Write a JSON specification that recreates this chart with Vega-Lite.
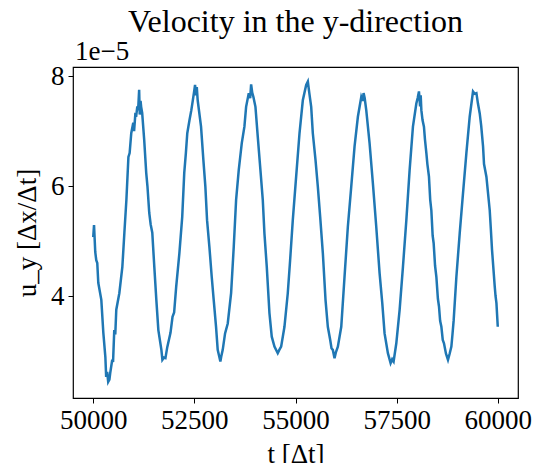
{
  "$schema": "https://vega.github.io/schema/vega-lite/v6.json",
  "width": 445,
  "height": 331,
  "autosize": "none",
  "padding": {"left": 73, "top": 67, "right": 19, "bottom": 65},
  "background": "white",
  "title": {"text": "Velocity in the y-direction", "font": "Liberation Serif", "fontSize": 32, "fontWeight": "normal", "color": "black", "baseline": "alphabetic", "offset": 13, "dy": 39},
  "config": {
    "view": {"stroke": "black", "strokeWidth": 1.2},
    "axis": {"grid": false, "domain": false, "tickColor": "black", "tickSize": 5, "tickWidth": 1, "labelFont": "Liberation Serif", "labelFontSize": 27, "labelColor": "black", "titleFont": "Liberation Serif", "titleFontSize": 27, "titleFontWeight": "normal", "titleColor": "black"}
  },
  "layer": [
    {
      "data": {"values": [
        {"t":50000,"v":5.07e-5},{"t":50020,"v":5.29e-5},{"t":50050,"v":4.80e-5},{"t":50075,"v":4.65e-5},{"t":50100,"v":4.60e-5},{"t":50125,"v":4.24e-5},{"t":50200,"v":3.93e-5},{"t":50250,"v":3.33e-5},{"t":50300,"v":2.89e-5},{"t":50320,"v":2.53e-5},{"t":50345,"v":2.62e-5},{"t":50370,"v":2.44e-5},{"t":50400,"v":2.48e-5},{"t":50420,"v":2.60e-5},{"t":50470,"v":2.84e-5},{"t":50490,"v":2.80e-5},{"t":50520,"v":3.38e-5},{"t":50545,"v":3.30e-5},{"t":50570,"v":3.75e-5},{"t":50645,"v":4.05e-5},{"t":50720,"v":4.53e-5},{"t":50770,"v":5.15e-5},{"t":50820,"v":5.75e-5},{"t":50870,"v":6.53e-5},{"t":50900,"v":6.60e-5},{"t":50940,"v":6.96e-5},{"t":50990,"v":7.15e-5},{"t":51010,"v":7.00e-5},{"t":51040,"v":7.30e-5},{"t":51065,"v":7.29e-5},{"t":51090,"v":7.45e-5},{"t":51110,"v":7.38e-5},{"t":51135,"v":7.75e-5},{"t":51150,"v":7.30e-5},{"t":51170,"v":7.55e-5},{"t":51185,"v":7.44e-5},{"t":51210,"v":7.33e-5},{"t":51260,"v":6.84e-5},{"t":51310,"v":6.24e-5},{"t":51340,"v":6.00e-5},{"t":51385,"v":5.51e-5},{"t":51420,"v":5.30e-5},{"t":51460,"v":5.15e-5},{"t":51480,"v":4.90e-5},{"t":51510,"v":4.53e-5},{"t":51560,"v":3.93e-5},{"t":51610,"v":3.38e-5},{"t":51685,"v":3.02e-5},{"t":51710,"v":2.84e-5},{"t":51750,"v":2.88e-5},{"t":51785,"v":2.87e-5},{"t":51830,"v":3.07e-5},{"t":51870,"v":3.20e-5},{"t":51910,"v":3.33e-5},{"t":51960,"v":3.62e-5},{"t":52000,"v":3.70e-5},{"t":52050,"v":4.16e-5},{"t":52130,"v":4.78e-5},{"t":52200,"v":5.44e-5},{"t":52250,"v":6.24e-5},{"t":52290,"v":6.60e-5},{"t":52325,"v":6.96e-5},{"t":52380,"v":7.20e-5},{"t":52425,"v":7.38e-5},{"t":52460,"v":7.55e-5},{"t":52500,"v":7.75e-5},{"t":52517,"v":7.84e-5},{"t":52540,"v":7.65e-5},{"t":52560,"v":7.80e-5},{"t":52582,"v":7.56e-5},{"t":52665,"v":7.08e-5},{"t":52723,"v":6.47e-5},{"t":52772,"v":5.99e-5},{"t":52814,"v":5.38e-5},{"t":52871,"v":4.90e-5},{"t":52929,"v":4.35e-5},{"t":52978,"v":3.93e-5},{"t":53036,"v":3.44e-5},{"t":53077,"v":3.02e-5},{"t":53143,"v":2.81e-5},{"t":53170,"v":2.92e-5},{"t":53201,"v":3.02e-5},{"t":53259,"v":3.32e-5},{"t":53325,"v":3.50e-5},{"t":53408,"v":4.05e-5},{"t":53474,"v":4.90e-5},{"t":53532,"v":5.75e-5},{"t":53597,"v":6.29e-5},{"t":53672,"v":6.78e-5},{"t":53737,"v":7.08e-5},{"t":53779,"v":7.44e-5},{"t":53845,"v":7.69e-5},{"t":53880,"v":7.60e-5},{"t":53903,"v":7.85e-5},{"t":53930,"v":7.70e-5},{"t":53960,"v":7.62e-5},{"t":54010,"v":7.44e-5},{"t":54067,"v":6.90e-5},{"t":54133,"v":6.29e-5},{"t":54191,"v":5.75e-5},{"t":54232,"v":5.14e-5},{"t":54290,"v":4.53e-5},{"t":54356,"v":3.69e-5},{"t":54413,"v":3.26e-5},{"t":54480,"v":3.08e-5},{"t":54561,"v":2.96e-5},{"t":54600,"v":3.02e-5},{"t":54645,"v":3.08e-5},{"t":54727,"v":3.44e-5},{"t":54809,"v":4.05e-5},{"t":54867,"v":4.65e-5},{"t":54933,"v":5.38e-5},{"t":55016,"v":6.17e-5},{"t":55099,"v":6.96e-5},{"t":55181,"v":7.56e-5},{"t":55264,"v":7.84e-5},{"t":55305,"v":7.90e-5},{"t":55340,"v":7.70e-5},{"t":55388,"v":7.44e-5},{"t":55428,"v":6.96e-5},{"t":55495,"v":6.47e-5},{"t":55552,"v":5.99e-5},{"t":55610,"v":5.44e-5},{"t":55676,"v":4.78e-5},{"t":55742,"v":3.93e-5},{"t":55799,"v":3.44e-5},{"t":55858,"v":3.20e-5},{"t":55890,"v":3.05e-5},{"t":55923,"v":3.02e-5},{"t":55965,"v":2.87e-5},{"t":56000,"v":2.98e-5},{"t":56047,"v":3.08e-5},{"t":56131,"v":3.44e-5},{"t":56212,"v":4.35e-5},{"t":56294,"v":5.26e-5},{"t":56378,"v":5.99e-5},{"t":56460,"v":6.72e-5},{"t":56542,"v":7.26e-5},{"t":56626,"v":7.62e-5},{"t":56660,"v":7.55e-5},{"t":56683,"v":7.69e-5},{"t":56710,"v":7.60e-5},{"t":56749,"v":7.38e-5},{"t":56831,"v":6.78e-5},{"t":56913,"v":6.05e-5},{"t":56996,"v":5.26e-5},{"t":57079,"v":4.41e-5},{"t":57145,"v":3.87e-5},{"t":57202,"v":3.32e-5},{"t":57284,"v":2.96e-5},{"t":57351,"v":2.78e-5},{"t":57390,"v":2.85e-5},{"t":57425,"v":2.81e-5},{"t":57492,"v":3.14e-5},{"t":57574,"v":3.75e-5},{"t":57656,"v":4.53e-5},{"t":57740,"v":5.38e-5},{"t":57821,"v":6.29e-5},{"t":57903,"v":7.08e-5},{"t":57987,"v":7.50e-5},{"t":58020,"v":7.60e-5},{"t":58052,"v":7.72e-5},{"t":58080,"v":7.45e-5},{"t":58095,"v":7.65e-5},{"t":58111,"v":7.38e-5},{"t":58140,"v":7.20e-5},{"t":58175,"v":7.08e-5},{"t":58200,"v":6.85e-5},{"t":58235,"v":6.60e-5},{"t":58260,"v":6.40e-5},{"t":58299,"v":6.17e-5},{"t":58330,"v":5.75e-5},{"t":58358,"v":5.56e-5},{"t":58390,"v":5.10e-5},{"t":58415,"v":4.96e-5},{"t":58450,"v":4.55e-5},{"t":58482,"v":4.35e-5},{"t":58520,"v":3.95e-5},{"t":58547,"v":3.81e-5},{"t":58575,"v":3.55e-5},{"t":58606,"v":3.44e-5},{"t":58640,"v":3.20e-5},{"t":58670,"v":3.14e-5},{"t":58720,"v":2.95e-5},{"t":58769,"v":2.84e-5},{"t":58810,"v":2.95e-5},{"t":58853,"v":3.08e-5},{"t":58880,"v":3.30e-5},{"t":58910,"v":3.56e-5},{"t":58977,"v":4.35e-5},{"t":59059,"v":5.14e-5},{"t":59141,"v":5.87e-5},{"t":59224,"v":6.60e-5},{"t":59306,"v":7.26e-5},{"t":59388,"v":7.72e-5},{"t":59430,"v":7.68e-5},{"t":59472,"v":7.69e-5},{"t":59510,"v":7.50e-5},{"t":59554,"v":7.32e-5},{"t":59590,"v":7.10e-5},{"t":59636,"v":6.72e-5},{"t":59660,"v":6.40e-5},{"t":59719,"v":6.17e-5},{"t":59801,"v":5.56e-5},{"t":59830,"v":5.20e-5},{"t":59858,"v":4.84e-5},{"t":59925,"v":4.17e-5},{"t":59945,"v":4.00e-5},{"t":59967,"v":3.87e-5},{"t":60000,"v":3.44e-5}
      ]},
      "mark": {"type": "line", "color": "#1f77b4", "strokeWidth": 2.5, "clip": true},
      "encoding": {
        "x": {"field": "t", "type": "quantitative", "scale": {"domain": [49500, 60500], "nice": false, "zero": false},
              "axis": {"values": [50000, 52500, 55000, 57500, 60000], "format": "d", "title": "t [Δt]", "labelPadding": 4, "titlePadding": 8}},
        "y": {"field": "v", "type": "quantitative", "scale": {"domain": [2.145e-5, 8.165e-5], "nice": false, "zero": false},
              "axis": {"values": [4e-5, 6e-5, 8e-5], "labelExpr": "format(round(datum.value*1e5), 'd')", "title": "u_y [Δx/Δt]", "labelPadding": 4, "titlePadding": 9}}
      }
    },
    {
      "data": {"values": [{"label": "1e−5"}]},
      "mark": {"type": "text", "font": "Liberation Serif", "fontSize": 27, "color": "black", "align": "left", "baseline": "alphabetic", "dy": -7, "dx": 2},
      "encoding": {
        "x": {"datum": 49500, "type": "quantitative"},
        "y": {"datum": 8.165e-5, "type": "quantitative"},
        "text": {"field": "label"}
      }
    }
  ]
}
